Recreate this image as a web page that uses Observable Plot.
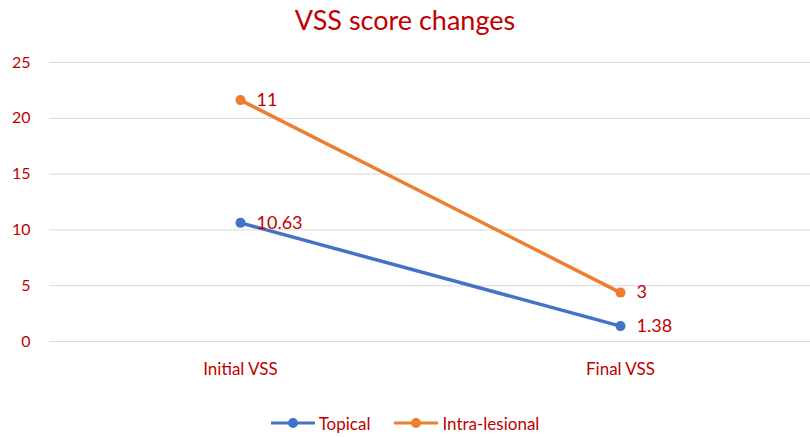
<!DOCTYPE html>
<html>
<head>
<meta charset="utf-8">
<script src="https://cdn.jsdelivr.net/npm/d3@7"></script>
<script src="https://cdn.jsdelivr.net/npm/@observablehq/plot@0.6"></script>
<style>
  body { margin: 0; background: #fff; font-family: Lato, "Open Sans", sans-serif; }
  #wrap { width: 810px; height: 437px; position: relative; }
  #title { height: 40px; line-height: 40px; text-align: center; font-size: 27px; color: #c00000; }
  #legend { position: absolute; top: 412px; left: 0; width: 810px; text-align: center; font-size: 17px; color: #c00000; }
  #legend span.item { display: inline-flex; align-items: center; margin: 0 12px; }
  #legend svg { margin-right: 4px; }
</style>
</head>
<body>
<div id="wrap">
  <div id="title">VSS score changes</div>
  <div id="chart"></div>
  <div id="legend"></div>
</div>
<script>
const categories = ["Initial VSS", "Final VSS"];
const seriesNames = ["Topical", "Intra-lesional"];
const topical = [10.63, 1.38];
const intraLesional = [11, 3];
const seriesColors = ["#4472c4", "#ed7d31"];
const yTicks = [0, 5, 10, 15, 20, 25];

const rows = [];
[topical, intraLesional].forEach((vals, s) => {
  vals.forEach((v, i) => rows.push({cat: categories[i], series: seriesNames[s], value: v}));
});

const textColor = "#c00000";
const chart = Plot.plot({
  width: 810,
  height: 355,
  marginLeft: 49,
  marginRight: 0,
  marginTop: 22,
  marginBottom: 54,
  style: {fontFamily: "Lato, 'Open Sans', sans-serif", color: textColor, background: "#fff"},
  x: {type: "point", domain: categories, padding: 0.5, label: null},
  y: {domain: [0, 25], ticks: yTicks, label: null},
  color: {domain: seriesNames, range: seriesColors},
  marks: [
    Plot.gridY(yTicks, {stroke: "#d9d9d9", strokeOpacity: 1, strokeWidth: 1}),
    Plot.axisY({ticks: yTicks, tickSize: 0, tickPadding: 19, fontSize: 16, fill: textColor, label: null}),
    Plot.axisX({tickSize: 0, tickPadding: 21, fontSize: 17, fill: textColor, label: null}),
    Plot.lineY(rows, Plot.stackY2({x: "cat", y: "value", z: "series", stroke: "series", strokeWidth: 3.5})),
    Plot.dot(rows, Plot.stackY2({x: "cat", y: "value", z: "series", fill: "series", r: 5})),
    Plot.text(rows, Plot.stackY2({x: "cat", y: "value", z: "series", text: d => String(d.value), textAnchor: "start", dx: 16, fontSize: 18, fill: textColor}))
  ]
});
document.getElementById("chart").appendChild(chart);

const legend = document.getElementById("legend");
seriesNames.forEach((name, i) => {
  const item = document.createElement("span");
  item.className = "item";
  item.innerHTML = `<svg width="44" height="12"><line x1="0" y1="6" x2="44" y2="6" stroke="${seriesColors[i]}" stroke-width="3"/><circle cx="22" cy="6" r="5" fill="${seriesColors[i]}"/></svg>${name}`;
  legend.appendChild(item);
});
</script>
</body>
</html>
